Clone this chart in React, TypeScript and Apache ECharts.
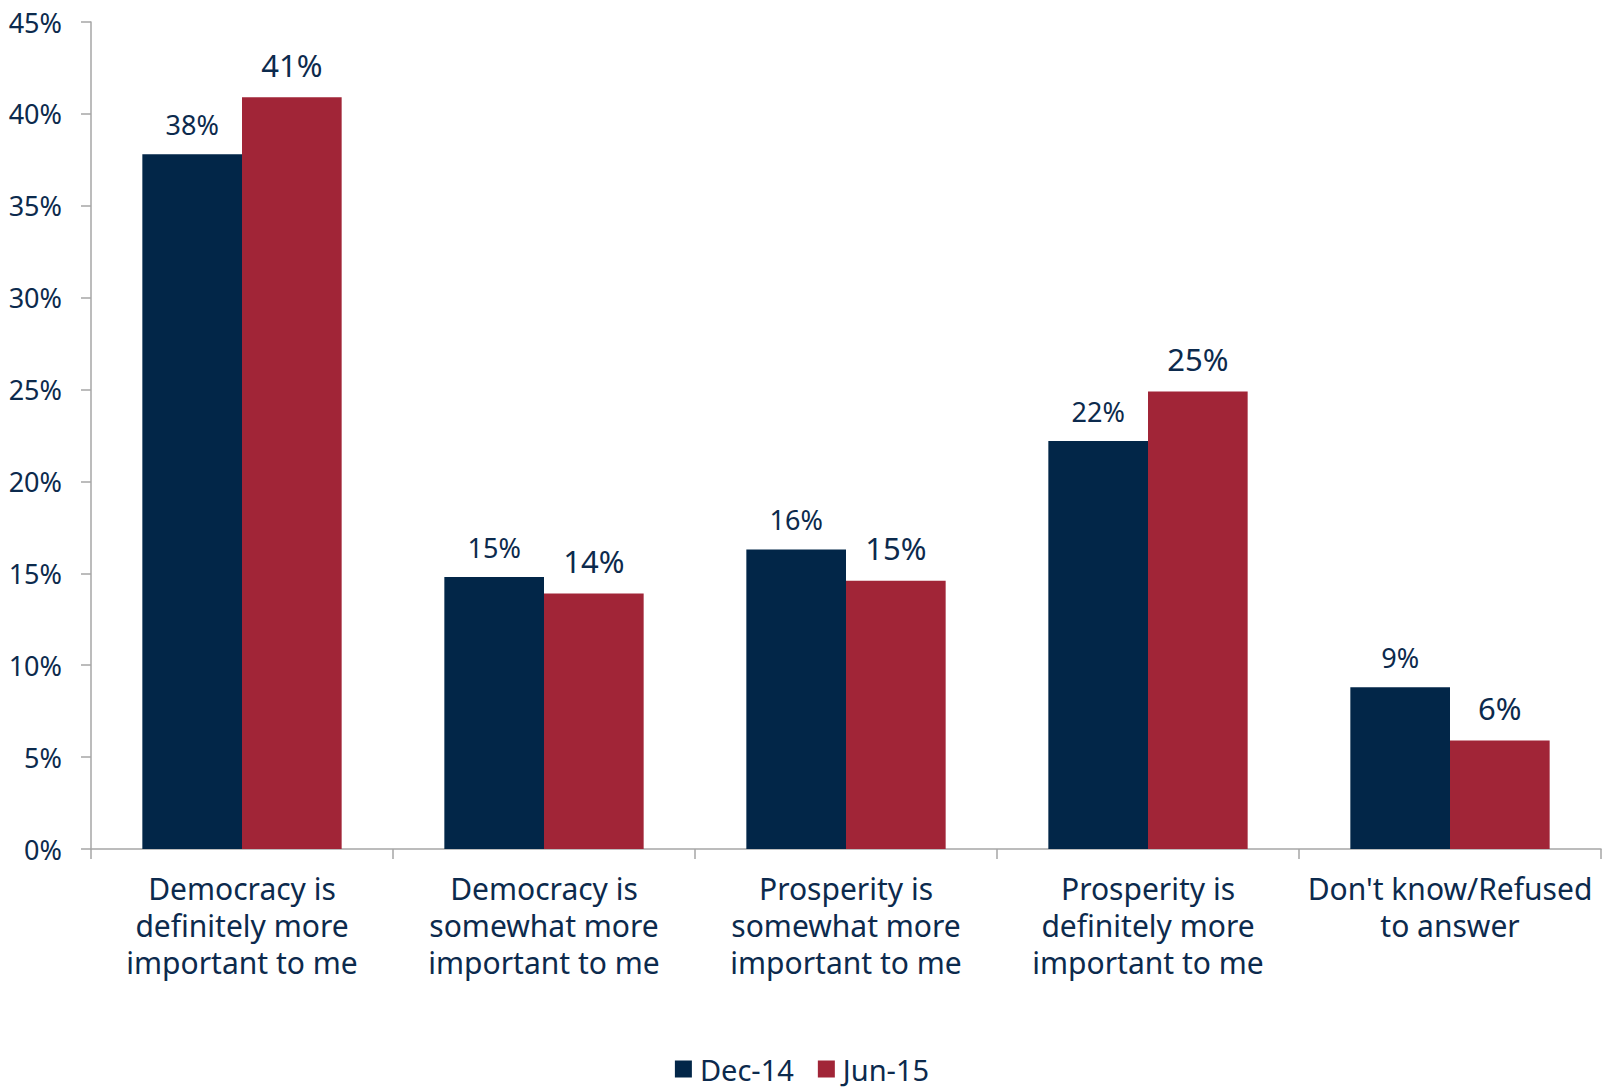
import React, { useEffect, useRef } from "react";
import * as echarts from "echarts";

const categories = [
  "Democracy is\ndefinitely more\nimportant to me",
  "Democracy is\nsomewhat more\nimportant to me",
  "Prosperity is\nsomewhat more\nimportant to me",
  "Prosperity is\ndefinitely more\nimportant to me",
  "Don't know/Refused\nto answer",
];
const seriesNames = ["Dec-14", "Jun-15"];
const dec14 = [37.8, 14.8, 16.3, 22.2, 8.8];
const jun15 = [40.9, 13.9, 14.6, 24.9, 5.9];
const yTicks = { min: 0, max: 45, interval: 5 };

const TEXT = "#0C2A4D";
const AXIS = "#A6A6A6";
const FONT = "'Noto Sans', 'DejaVu Sans', sans-serif";

export default function App() {
  const ref = useRef<HTMLDivElement>(null);
  useEffect(() => {
    if (!ref.current) return;
    const chart = echarts.init(ref.current, null, { renderer: "svg" });
    chart.setOption({
      animation: false,
      textStyle: { fontFamily: FONT },
      grid: { left: 91, right: 3, top: 22, bottom: 239, containLabel: false },
      legend: {
        data: seriesNames,
        left: "center",
        top: 1052,
        padding: 0,
        itemWidth: 17,
        itemHeight: 17,
        itemGap: 24,
        icon: "rect",
        textStyle: {
          color: TEXT,
          fontSize: 29,
          lineHeight: 34,
          fontFamily: FONT,
          padding: [0, 0, 0, 3],
        },
      },
      xAxis: {
        type: "category",
        data: categories,
        axisLine: { lineStyle: { color: AXIS, width: 1.5 } },
        axisTick: { show: true, length: 10, lineStyle: { color: AXIS, width: 1.5 } },
        axisLabel: {
          color: TEXT,
          fontSize: 30,
          lineHeight: 37,
          margin: 21,
          interval: 0,
          fontFamily: FONT,
        },
      },
      yAxis: {
        type: "value",
        min: yTicks.min,
        max: yTicks.max,
        interval: yTicks.interval,
        axisLine: { show: true, lineStyle: { color: AXIS, width: 1.5 } },
        axisTick: { show: true, length: 10, lineStyle: { color: AXIS, width: 1.5 } },
        splitLine: { show: false },
        axisLabel: {
          color: TEXT,
          fontSize: 27,
          margin: 29,
          formatter: "{value}%",
          fontFamily: FONT,
        },
      },
      series: [
        {
          name: seriesNames[0],
          type: "bar",
          data: dec14,
          barGap: "0%",
          barCategoryGap: "34%",
          itemStyle: { color: "#022648" },
          label: {
            show: true,
            position: "top",
            distance: 16,
            color: TEXT,
            fontSize: 27,
            fontFamily: FONT,
            formatter: (p: any) => Math.round(p.value) + "%",
          },
        },
        {
          name: seriesNames[1],
          type: "bar",
          data: jun15,
          barGap: "0%",
          barCategoryGap: "34%",
          itemStyle: { color: "#A12537" },
          label: {
            show: true,
            position: "top",
            distance: 17,
            color: TEXT,
            fontSize: 31,
            fontFamily: FONT,
            formatter: (p: any) => Math.round(p.value) + "%",
          },
        },
      ],
    });
    return () => chart.dispose();
  }, []);
  return <div ref={ref} style={{ width: 1604, height: 1088, position: "absolute", left: 0, top: 0 }} />;
}
